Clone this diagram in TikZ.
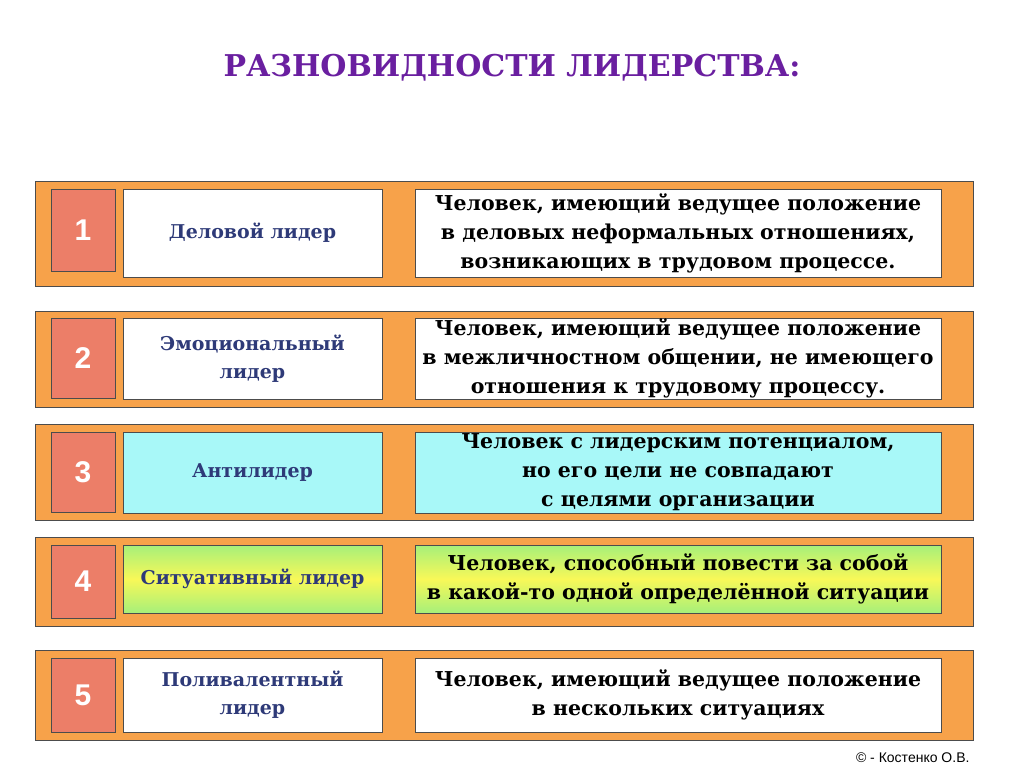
\documentclass[tikz,border=0pt]{standalone}
\usepackage{fontspec}
\setmainfont{DejaVu Serif}
\newfontfamily\sansf{Liberation Sans}
\definecolor{bandc}{HTML}{F7A24A}
\definecolor{numc}{HTML}{EC7E68}
\definecolor{navyc}{HTML}{2E3A78}
\definecolor{cyanc}{HTML}{A8F8F8}
\definecolor{titc}{HTML}{6A1FA0}
\definecolor{grc}{HTML}{A6F07A}
\definecolor{ylc}{HTML}{F8F858}
\tikzset{
 band/.style={draw=black!70, line width=0.8pt, fill=bandc},
 numbox/.style={draw=black!70, line width=0.8pt, fill=numc, font=\sansf\bfseries\fontsize{30}{30}\selectfont, text=white},
 lbox/.style={draw=black!70, line width=0.8pt, fill=white, font=\bfseries\fontsize{19}{28}\selectfont, text=navyc, align=center, inner sep=0pt},
 rbox/.style={draw=black!70, line width=0.8pt, fill=white, font=\bfseries\fontsize{20.5}{29}\selectfont, text=black, align=center, inner sep=0pt},
 grad/.style={top color=grc, bottom color=grc, middle color=ylc},
}
\begin{document}
\begin{tikzpicture}[x=1pt,y=-1pt]
\useasboundingbox (0,0) rectangle (1024,767);
\fill[white] (0,0) rectangle (1024,767);
\node[font=\bfseries\fontsize{30}{30}\selectfont, text=titc] (title) at (512,68) {РАЗНОВИДНОСТИ ЛИДЕРСТВА:};
% bands
\draw[band] (35,181) rectangle (973,286);
\draw[band] (35,311) rectangle (973,407);
\draw[band] (35,424) rectangle (973,520);
\draw[band] (35,537) rectangle (973,626);
\draw[band] (35,650) rectangle (973,740);
% row 1
\draw[numbox] (51,189) rectangle (115,271) node[midway] (n1) {1};
\draw[lbox] (123,189) rectangle (382,277) node[midway] (l1) {Деловой лидер};
\draw[rbox] (415,189) rectangle (941,277) node[midway] (r1) {Человек, имеющий ведущее положение\\в деловых неформальных отношениях,\\возникающих в трудовом процессе.};
% row 2
\draw[numbox] (51,318) rectangle (115,398) node[midway] (n2) {2};
\draw[lbox] (123,318) rectangle (382,399) node[midway] (l2) {Эмоциональный\\лидер};
\draw[rbox] (415,318) rectangle (941,399) node[midway] (r2) {Человек, имеющий ведущее положение\\в межличностном общении, не имеющего\\отношения к трудовому процессу.};
% row 3
\draw[numbox] (51,432) rectangle (115,512) node[midway] (n3) {3};
\draw[lbox, fill=cyanc] (123,432) rectangle (382,513) node[midway] (l3) {Антилидер};
\draw[rbox, fill=cyanc] (415,432) rectangle (941,513) node[midway] (r3) {Человек с лидерским потенциалом,\\но его цели не совпадают\\с целями организации};
% row 4
\draw[numbox] (51,545) rectangle (115,618) node[midway] (n4) {4};
\draw[lbox, grad] (123,545) rectangle (382,613) node[midway] (l4) {Ситуативный лидер};
\draw[rbox, grad] (415,545) rectangle (941,613) node[midway] (r4) {Человек, способный повести за собой\\в какой-то одной определённой ситуации};
% row 5
\draw[numbox] (51,658) rectangle (115,732) node[midway] (n5) {5};
\draw[lbox] (123,658) rectangle (382,732) node[midway] (l5) {Поливалентный\\лидер};
\draw[rbox] (415,658) rectangle (941,732) node[midway] (r5) {Человек, имеющий ведущее положение\\в нескольких ситуациях};
\node[font=\sansf\fontsize{14}{14}\selectfont, anchor=east] (copy) at (973,758) {© - Костенко О.В.};
\end{tikzpicture}
\end{document}
